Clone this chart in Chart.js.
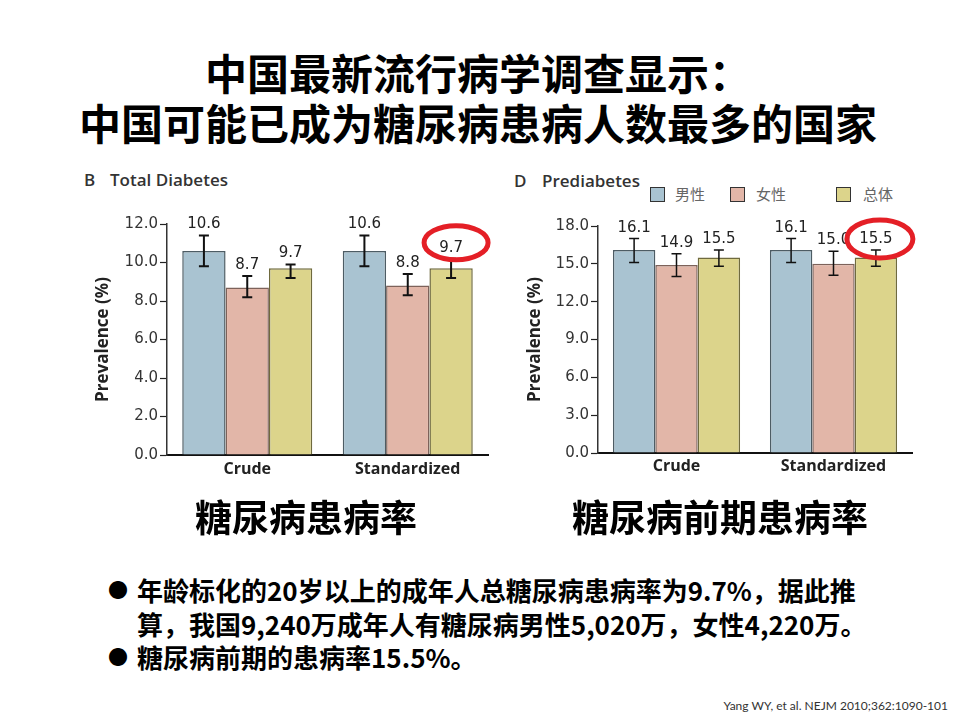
<!DOCTYPE html>
<html>
<head>
<meta charset="utf-8">
<script src="https://cdn.jsdelivr.net/npm/chart.js@4"></script>
<style>
  body { margin: 0; background: #fff; }
  #page { position: relative; width: 960px; height: 720px; overflow: hidden; font-family: "Noto Sans CJK SC", sans-serif; }
  .abs { position: absolute; white-space: nowrap; }
  #title { left: 0; width: 956px; top: 47px; text-align: center; font-size: 42px; font-weight: 700; line-height: 50px; color: #000; }
  .sub { top: 492px; font-size: 37px; font-weight: 700; line-height: 48px; color: #000; text-align: center; }
  .panel { font-family: "Open Sans", sans-serif; font-size: 17px; font-weight: 600; color: #333; line-height: 20px; }
  .legbox { width: 13px; height: 13px; border: 1.5px solid #333; }
  .legtxt { font-size: 15px; color: #666; line-height: 20px; }
  #bullets { left: 108px; top: 573px; font-size: 26px; font-weight: 700; line-height: 33.5px; color: #000; }
  #bullets .dot { position: absolute; left: 0; font-size: 20px; }
  #bullets .ln { padding-left: 29px; }
  #foot { right: 12px; top: 697px; font-family: Lato, sans-serif; font-size: 12px; color: #333; line-height: 18px; }
  canvas { position: absolute; }
</style>
</head>
<body>
<div id="page">
  <div id="title" class="abs">中国最新流行病学调查显示：<br>中国可能已成为糖尿病患病人数最多的国家</div>

  <div class="abs panel" style="left:84px; top:170px;">B</div>
  <div class="abs panel" style="left:110px; top:170px;">Total Diabetes</div>
  <div class="abs panel" style="left:514px; top:171px;">D</div>
  <div class="abs panel" style="left:542px; top:171px;">Prediabetes</div>

  <div id="legend"></div>

  <canvas id="diab" width="432" height="290" style="left:60px; top:200px;"></canvas>
  <canvas id="pre" width="430" height="290" style="left:490px; top:200px;"></canvas>

  <div class="abs sub" style="left:156px; width:300px;">糖尿病患病率</div>
  <div class="abs sub" style="left:560px; width:320px;">糖尿病前期患病率</div>

  <div id="bullets" class="abs">
    <div class="dot" style="top:0;">●</div>
    <div class="ln">年龄标化的20岁以上的成年人总糖尿病患病率为9.7%，据此推</div>
    <div class="ln">算，我国9,240万成年人有糖尿病男性5,020万，女性4,220万。</div>
    <div class="dot" style="top:67px;">●</div>
    <div class="ln">糖尿病前期的患病率15.5%。</div>
  </div>

  <div id="foot" class="abs">Yang WY, et al. NEJM 2010;362:1090-101</div>
</div>

<script>
// categories and series
const groups = ["Crude", "Standardized"];
const seriesNames = ["男性", "女性", "总体"];

// total diabetes (%)
const diabMale = [10.6, 10.6];
const diabFemale = [8.7, 8.8];
const diabTotal = [9.7, 9.7];
const diabMaleCI = [[9.8, 11.4], [9.8, 11.4]];
const diabFemaleCI = [[8.2, 9.3], [8.3, 9.4]];
const diabTotalCI = [[9.2, 9.9], [9.2, 10.2]];
const diabTicks = [0, 2, 4, 6, 8, 10, 12];

// prediabetes (%)
const preMale = [16.1, 16.1];
const preFemale = [14.9, 15.0];
const preTotal = [15.5, 15.5];
const preMaleCI = [[15.1, 17.0], [15.1, 17.0]];
const preFemaleCI = [[14.0, 15.8], [14.1, 16.0]];
const preTotalCI = [[14.8, 16.1], [14.8, 16.1]];
const preTicks = [0, 3, 6, 9, 12, 15, 18];

const fills = ["#a9c3d1", "#e2b6a8", "#dcd48b"];
const edges = ["#4d5c64", "#7d625a", "#6f6a3e"];

// html legend (男性 / 女性 / 总体)
const legendPos = [[650, 675], [730, 756], [836, 863]];
const legendEl = document.getElementById("legend");
seriesNames.forEach((name, i) => {
  const box = document.createElement("div");
  box.className = "abs legbox";
  box.style.left = legendPos[i][0] + "px";
  box.style.top = "187px";
  box.style.background = fills[i];
  legendEl.appendChild(box);
  const txt = document.createElement("div");
  txt.className = "abs legtxt";
  txt.style.left = legendPos[i][1] + "px";
  txt.style.top = "184px";
  txt.textContent = name;
  legendEl.appendChild(txt);
});

// error bars, value labels and the red ring
const errorBars = {
  id: "errorBars",
  afterDatasetsDraw(chart, args, opts) {
    const ctx = chart.ctx;
    const y = chart.scales.y;
    chart.data.datasets.forEach((ds, di) => {
      chart.getDatasetMeta(di).data.forEach((bar, i) => {
        const yLo = y.getPixelForValue(ds.ci[i][0]);
        const yHi = y.getPixelForValue(ds.ci[i][1]);
        ctx.save();
        ctx.strokeStyle = "#111";
        ctx.lineWidth = opts.lineWidth;
        ctx.beginPath();
        ctx.moveTo(bar.x, yLo);
        ctx.lineTo(bar.x, yHi);
        ctx.moveTo(bar.x - opts.cap, yLo);
        ctx.lineTo(bar.x + opts.cap, yLo);
        ctx.moveTo(bar.x - opts.cap, yHi);
        ctx.lineTo(bar.x + opts.cap, yHi);
        ctx.stroke();
        ctx.fillStyle = "#222";
        ctx.font = "15px 'DejaVu Sans'";
        ctx.textAlign = "center";
        ctx.textBaseline = "middle";
        ctx.fillText(ds.data[i].toFixed(1), bar.x, yHi - 11);
        ctx.restore();
      });
    });
    const hl = opts.highlight;
    if (hl) {
      const ds = chart.data.datasets[hl.dataset];
      const bar = chart.getDatasetMeta(hl.dataset).data[hl.index];
      const yHi = y.getPixelForValue(ds.ci[hl.index][1]);
      ctx.save();
      ctx.strokeStyle = "#e41f26";
      ctx.lineWidth = 5;
      ctx.beginPath();
      ctx.ellipse(bar.x + hl.dx, yHi - 11 + hl.dy, hl.rx, hl.ry, 0, 0, Math.PI * 2);
      ctx.stroke();
      ctx.restore();
    }
  }
};

function makeChart(id, series, cis, ticks, pad, yWidth, xHeight, xPad, hl, errWidth) {
  return new Chart(document.getElementById(id), {
    type: "bar",
    data: {
      labels: groups,
      datasets: series.map((vals, i) => ({
        label: seriesNames[i],
        data: vals,
        ci: cis[i],
        backgroundColor: fills[i],
        borderColor: edges[i],
        borderWidth: 1.5,
        barPercentage: 1,
        categoryPercentage: 0.81
      }))
    },
    options: {
      responsive: false,
      animation: false,
      layout: { padding: pad },
      plugins: {
        legend: { display: false },
        tooltip: { enabled: false },
        errorBars: { lineWidth: errWidth, cap: 5, highlight: hl }
      },
      scales: {
        x: {
          grid: { display: true, drawOnChartArea: false, drawTicks: false },
          border: { color: "#111", width: 2 },
          ticks: { color: "#222", padding: xPad, font: { family: "'Open Sans'", size: 16, weight: "bold" } },
          afterFit: s => { s.height = xHeight; }
        },
        y: {
          min: ticks[0],
          max: ticks[ticks.length - 1],
          afterBuildTicks: s => { s.ticks = ticks.map(v => ({ value: v })); },
          grid: { drawOnChartArea: false, tickLength: 7, color: "#222", tickWidth: 1.2 },
          border: { color: "#333", width: 1.5 },
          ticks: { color: "#333", padding: 2, font: { family: "'DejaVu Sans'", size: 15 }, callback: v => v.toFixed(1) },
          title: {
            display: true,
            text: "Prevalence (%)",
            color: "#222",
            padding: { top: 5, bottom: 0 },
            font: { family: "'Open Sans'", size: 17, weight: "bold" }
          },
          afterFit: s => { s.width = yWidth; }
        }
      }
    },
    plugins: [errorBars]
  });
}

makeChart("diab",
  [diabMale, diabFemale, diabTotal],
  [diabMaleCI, diabFemaleCI, diabTotalCI],
  diabTicks,
  { left: 28, right: 4, top: 24, bottom: 0 }, 79, 35, 5,
  { dataset: 2, index: 1, dx: 5, dy: -5, rx: 32, ry: 17 }, 2);

makeChart("pre",
  [preMale, preFemale, preTotal],
  [preMaleCI, preFemaleCI, preTotalCI],
  preTicks,
  { left: 30, right: 8, top: 26, bottom: 0 }, 78, 37, 4,
  { dataset: 2, index: 1, dx: 4, dy: 0, rx: 33, ry: 19 }, 1.5);
</script>
</body>
</html>
